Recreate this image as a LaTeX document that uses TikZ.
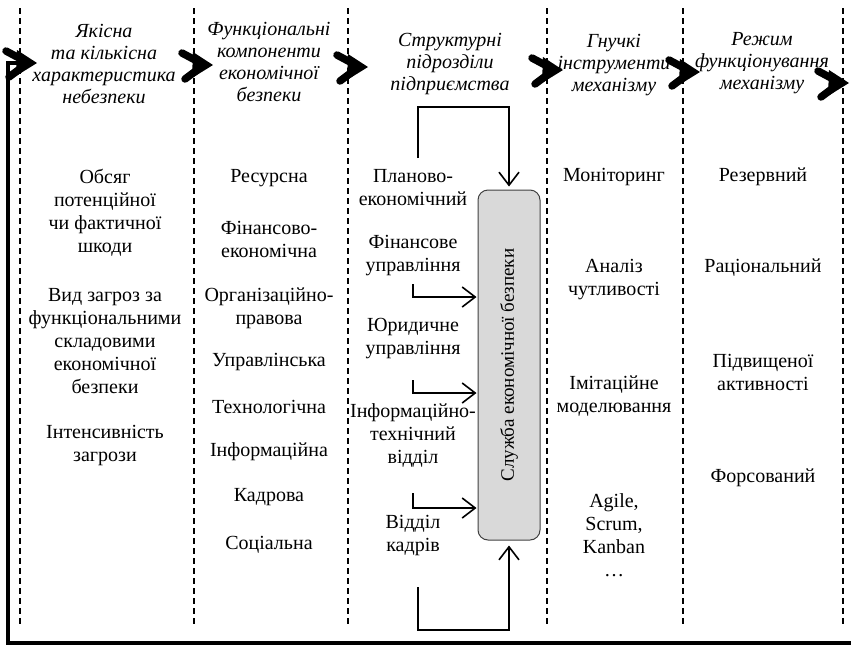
\documentclass[tikz,border=0pt]{standalone}
\usepackage{fontspec}
\setmainfont{Liberation Serif}
\usepackage{graphicx}
\usetikzlibrary{arrows.meta}
\tikzset{
  txt/.style={align=center, inner sep=0pt, font=\fontsize{20}{23}\selectfont},
  hdr/.style={txt, font=\fontsize{20}{22}\selectfont\itshape},
  sep/.style={line width=1.6pt, dash pattern=on 6pt off 4pt},
  conn/.style={line width=1.6pt, -{Straight Barb[length=13pt,width=20pt,line width=1.6pt]}},
  svcbox/.style={draw=black!75, line width=1pt, fill=black!15, rounded corners=10pt, inner sep=0pt},
  chev/.pic={
    \fill (0,0) -- (-20,-13) -- (-21,13) -- cycle;
    \draw[line width=7.5pt,line cap=round] (-31,-12) -- (-16,-4);
    \draw[line width=7.5pt,line cap=round] (-28,14) -- (-16,5);
  }
}
\begin{document}
\begin{tikzpicture}[x=1pt,y=-1pt]
\useasboundingbox (0,0) rectangle (851,646);
% separators
\foreach \xx in {20,194,348,547,683,843} \draw[sep] (\xx,8) -- (\xx,627);
% feedback line
\draw[line width=4pt] (851,643) -- (8,643) -- (8,63) -- (17,63);
% chevrons
\pic at (37,63) {chev};
\pic at (213,65) {chev};
\pic at (368,67) {chev};
\pic at (563,70) {chev};
\pic at (700,72) {chev};
\pic at (849,83) {chev};
% headers
\node[hdr] (h1) at (104,64) {Якісна\\та кількісна\\характеристика\\небезпеки};
\node[hdr] (h2) at (269,62) {Функціональні\\компоненти\\економічної\\безпеки};
\node[hdr] (h3) at (450,64) {Структурні\\підрозділи\\підприємства};
\node[hdr] (h4) at (614,65) {Гнучкі\\інструменти\\механізму};
\node[hdr] (h5) at (762,63) {Режим\\функціонування\\механізму};
% column 1
\node[txt] (a1) at (105,213) {Обсяг\\потенційної\\чи фактичної\\шкоди};
\node[txt] (a2) at (105,341) {Вид загроз за\\функціональними\\складовими\\економічної\\безпеки};
\node[txt] (a3) at (105,445) {Інтенсивність\\загрози};
% column 2
\node[txt] (b1) at (269,178) {Ресурсна};
\node[txt] (b2) at (269,239) {Фінансово-\\економічна};
\node[txt] (b3) at (269,308) {Організаційно-\\правова};
\node[txt] (b4) at (269,362) {Управлінська};
\node[txt] (b5) at (269,407) {Технологічна};
\node[txt] (b6) at (269,452) {Інформаційна};
\node[txt] (b7) at (269,497) {Кадрова};
\node[txt] (b8) at (269,545) {Соціальна};
% column 3
\node[txt] (c1) at (413,188) {Планово-\\економічний};
\node[txt] (c2) at (413,256) {Фінансове\\управління};
\node[txt] (c3) at (413,339) {Юридичне\\управління};
\node[txt] (c4) at (413,435) {Інформаційно-\\технічний\\відділ};
\node[txt] (c5) at (413,535) {Відділ\\кадрів};
% service box
\node[svcbox, minimum width=62pt, minimum height=350pt] (svc) at (509,365)
  {\rotatebox{90}{\fontsize{19}{20}\selectfont Служба економічної безпеки}};
% connectors into the box
\coordinate (t0) at (418,158);
\coordinate (t1) at (509,107);
\draw[conn, shorten >=3pt] (t0) |- (t1) -- (svc.north);
\coordinate (u0) at (418,587);
\coordinate (u1) at (509,630);
\draw[conn, shorten >=5pt] (u0) |- (u1) -- (svc.south);
\coordinate (f1) at (413,284);
\coordinate (e1) at (413,297);
\draw[conn, shorten >=1pt] (f1) -- (e1) -- (svc.west |- e1);
\coordinate (f2) at (413,380);
\coordinate (e2) at (413,393);
\draw[conn, shorten >=1pt] (f2) -- (e2) -- (svc.west |- e2);
\coordinate (f3) at (413,493);
\coordinate (e3) at (413,508);
\draw[conn, shorten >=1pt] (f3) -- (e3) -- (svc.west |- e3);
% column 4
\node[txt] (d1) at (614,177) {Моніторинг};
\node[txt] (d2) at (614,280) {Аналіз\\чутливості};
\node[txt] (d3) at (614,396) {Імітаційне\\моделювання};
\node[txt] (d4) at (614,535) {Agile,\\Scrum,\\Kanban\\…};
% column 5
\node[txt] (g1) at (763,177) {Резервний};
\node[txt] (g2) at (763,268) {Раціональний};
\node[txt] (g3) at (763,372) {Підвищеної\\активності};
\node[txt] (g4) at (763,478) {Форсований};
\end{tikzpicture}
\end{document}
